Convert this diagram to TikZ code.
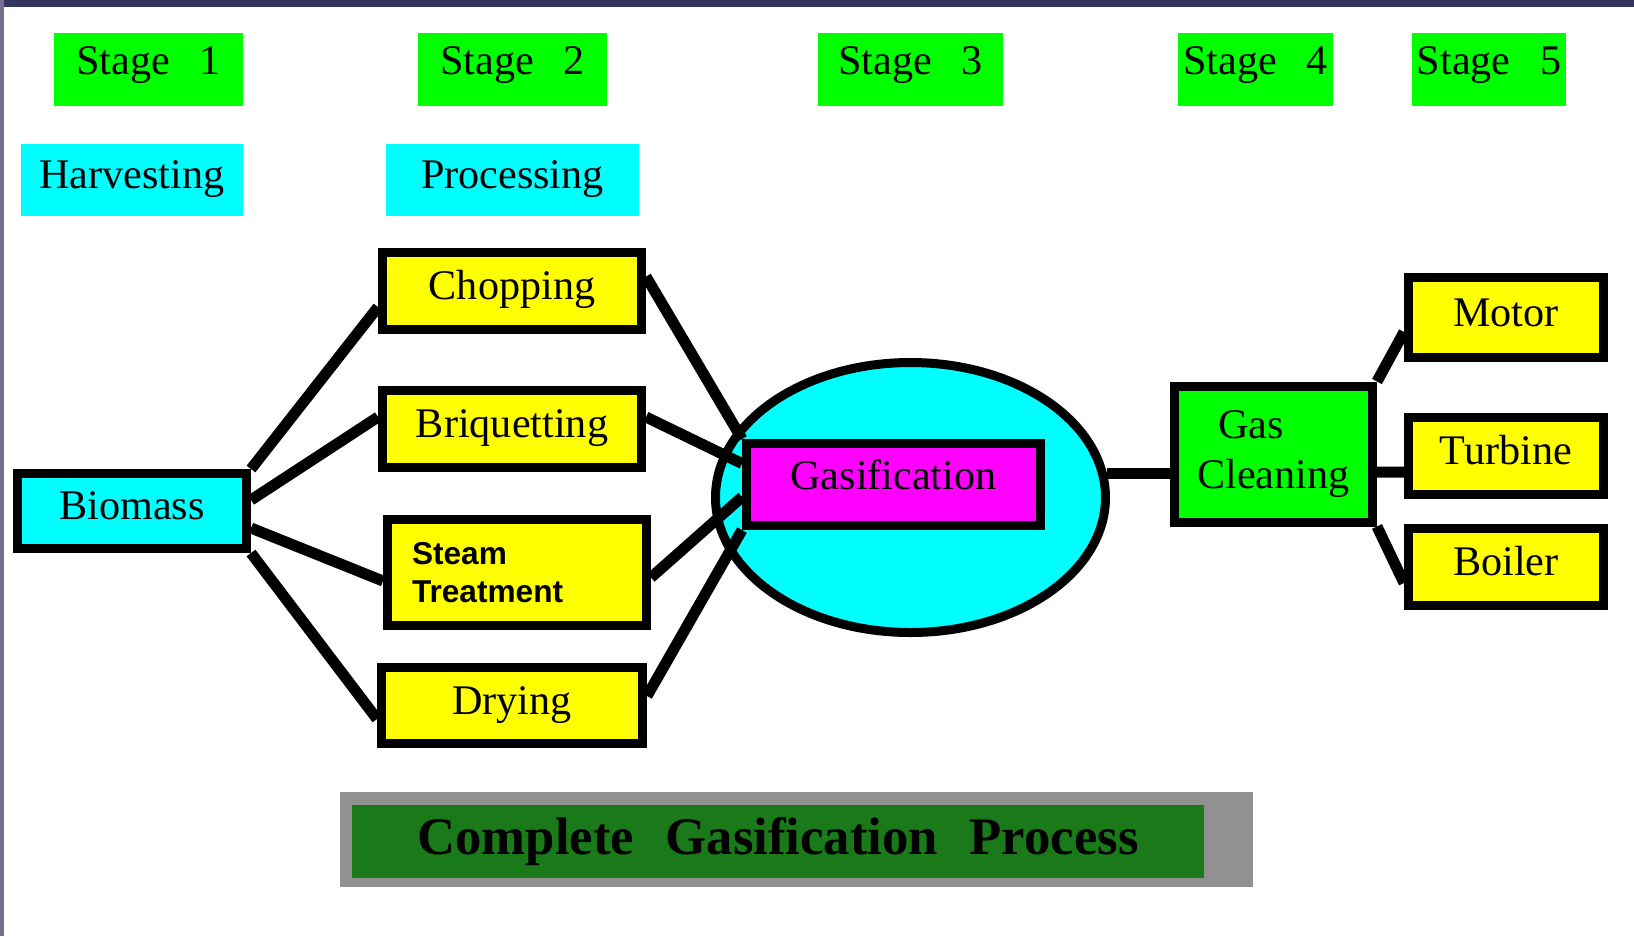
\documentclass[tikz,border=0pt]{standalone}
\usepackage{fontspec}
\setmainfont{Liberation Serif}
\newfontfamily\sansbold{Liberation Sans}
\usetikzlibrary{shapes.geometric,positioning,calc}

\definecolor{lime}{RGB}{0,255,0}
\definecolor{aqua}{RGB}{0,255,255}
\definecolor{lemon}{RGB}{255,255,0}
\definecolor{fuchsia}{RGB}{255,0,255}
\definecolor{titlegreen}{RGB}{26,122,26}
\definecolor{titlegray}{RGB}{145,145,145}
\definecolor{topbar}{RGB}{52,54,94}
\definecolor{sidebar}{RGB}{118,112,142}

\begin{document}
\begin{tikzpicture}[x=0.1mm,y=-0.1mm,on grid,
  font=\fontsize{12}{14}\selectfont,
  label/.style={text height=8pt,text depth=3pt},
  stagebox/.style={label,text depth=5pt,inner sep=0pt,fill=lime,minimum height=7.3mm},
  taskbox/.style={label,inner sep=0pt,fill=aqua,minimum height=7.2mm},
  procbox/.style={draw,line width=0.9mm,fill=lemon,inner sep=0pt,minimum width=25.9mm,minimum height=7.7mm},
  outbox/.style={procbox,label,minimum width=19.5mm},
  link/.style={line width=1.1mm}]
  \useasboundingbox (0,0) rectangle (1634,936);
  \fill[white] (0,0) rectangle (1634,936);
  \fill[topbar] (0,0) rectangle (1634,7);
  \fill[sidebar] (0,0) rectangle (4,936);

  % stages and headings
  \path
  node[stagebox,minimum width=18.9mm] (s1) at (148.5,69.5) {Stage\hspace{0.7em}1\hspace{0.6em}}
  node[stagebox,minimum width=18.9mm] (s2) at (512.5,69.5) {Stage\hspace{0.7em}2}
  node[stagebox,minimum width=18.5mm] (s3) at (910.5,69.5) {Stage\hspace{0.7em}3}
  node[stagebox,minimum width=15.5mm] (s4) at (1255.5,69.5) {Stage\hspace{0.7em}4}
  node[stagebox,minimum width=15.4mm] (s5) at (1489,69.5) {Stage\hspace{0.7em}5}
  node[taskbox,minimum width=22.2mm] (harv) at (132,180) {Harvesting}
  node[taskbox,minimum width=25.3mm] (proc) at (512.5,180) {Processing}
  ;

  % process boxes
  \path
  node[procbox,label,fill=aqua,minimum width=22.9mm,minimum height=7.5mm] (bio) at (132,511) {Biomass}
  node[procbox,label] (chop) at (512,290.5) {Chopping}
  node[procbox,label] (brq) [below=13.85mm of chop] {Briquetting}
  node[procbox,minimum height=10.6mm,align=left,text width=21mm,
       font=\sansbold\bfseries\fontsize{9}{11}\selectfont] (steam) at (517,572.5) {Steam\\Treatment}
  node[procbox,label,minimum width=26.1mm,minimum height=7.6mm] (dry) [below=27.65mm of brq] {Drying}
  node[draw,line width=0.9mm,fill=aqua,ellipse,inner sep=0pt,
       minimum width=39mm,minimum height=27mm] (ell) at (910.5,497.5) {}
  node[procbox,label,text depth=5pt,fill=fuchsia,minimum width=29.4mm,minimum height=8.2mm] (gas) at (893.5,484.5) {Gasification}
  node[procbox,fill=lime,minimum width=19.8mm,minimum height=13.6mm,align=left,
       font=\fontsize{12}{14.2}\selectfont] (gc) at (1273.5,454) {\hspace*{0.5em}Gas\\Cleaning}
  node[outbox,minimum height=8mm] (motor) at (1506,317.5) {Motor}
  node[outbox] (turb) [below=13.85mm of motor] {Turbine}
  node[outbox] (boil) [below=11.1mm of turb] {Boiler}
  ;

  \path[link]
  (bio.north east) edge ($(chop.west)+(0,16.5)$)
  ($(bio.east)+(0,-11)$) edge ($(brq.west)+(0,-12)$)
  ($(bio.east)+(0,17)$) edge ($(steam.west)+(0,8.5)$)
  (bio.south east) edge ($(dry.west)+(0,13.5)$)

  ($(chop.east)+(0,-14)$) edge (gas.north west)
  ($(brq.east)+(0,-12)$) edge ($(gas.west)+(0,-21)$)
  ($(steam.east)+(0,5)$) edge ($(gas.west)+(0,12.5)$)
  ($(dry.east)+(0,-9.5)$) edge (gas.south west)

  (ell.7) edge (ell.7 -| gc.west)
  (gc.north east) edge ($(motor.west)+(0,14.5)$)
  ($(gc.east)+(0,18)$) edge ($(turb.west)+(0,16)$)
  (gc.south east) edge ($(boil.west)+(0,16)$)
  ;

  % title bar
  \node[fill=titlegray,inner sep=0pt,minimum width=91.3mm,minimum height=9.5mm] (frame) at (796.5,839.5) {};
  \node[fill=titlegreen,inner sep=0pt,minimum width=85.2mm,minimum height=7.3mm,
        font=\fontsize{15}{18}\selectfont\bfseries] (title) at (778,841.5)
        {Complete\hspace{0.6em}Gasification\hspace{0.6em}Process};
\end{tikzpicture}
\end{document}
